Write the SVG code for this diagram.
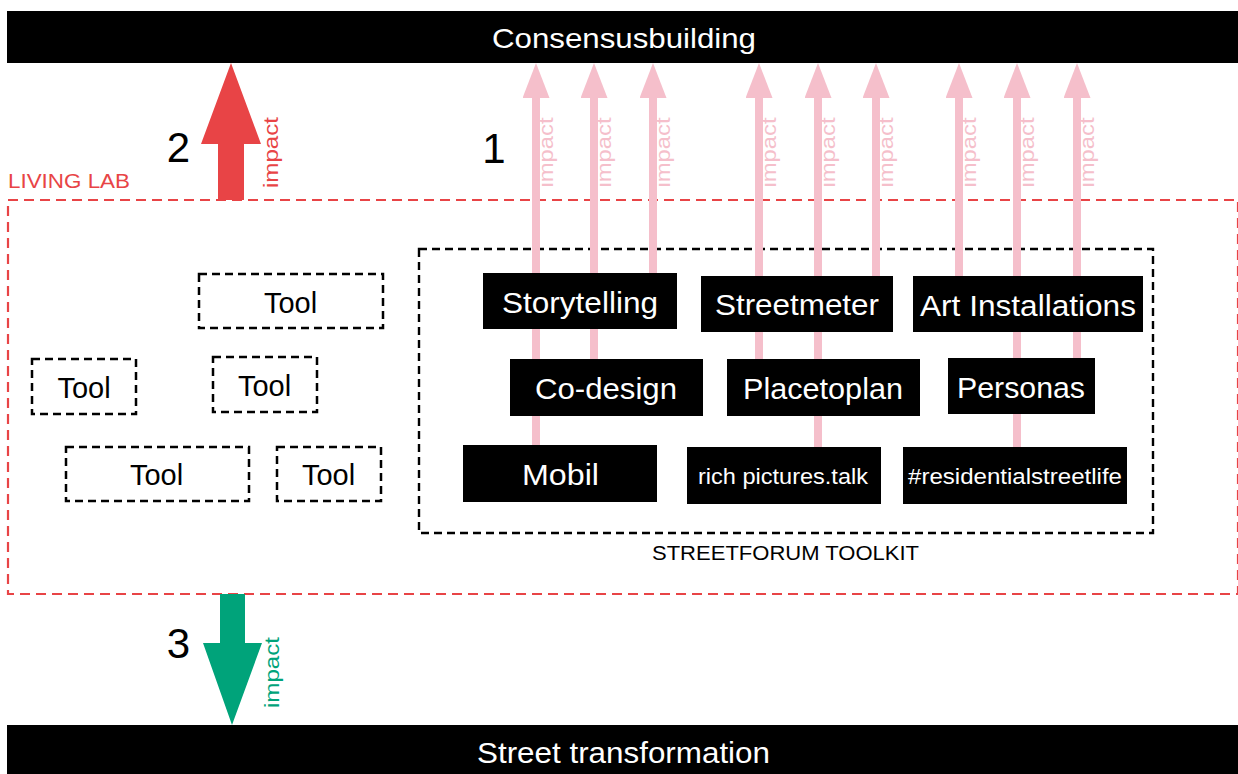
<svg xmlns="http://www.w3.org/2000/svg" width="1238" height="774" viewBox="0 0 1238 774">
<style>
  text { font-family: "Liberation Sans", Arial, sans-serif; }
  .bar { fill: #000; }
  .bartext { fill: #fff; font-size: 28px; text-anchor: middle; }
  .box { fill: #000; }
  .boxtext { fill: #fff; font-size: 29px; text-anchor: middle; }
  .smalltext { fill: #fff; font-size: 22px; text-anchor: middle; }
  .tool { fill: none; stroke: #000; stroke-width: 2.5; stroke-dasharray: 8 5; }
  .tooltext { fill: #000; font-size: 29px; text-anchor: middle; }
  .pink { stroke: #F5BFCB; stroke-width: 8; fill: none; marker-end: url(#pinkhead); }
  .pinklabel { fill: #F5BFCB; font-size: 20px; text-anchor: middle; }
  .digit { fill: #000; font-size: 42px; text-anchor: middle; }
</style>
<defs>
  <marker id="pinkhead" markerUnits="userSpaceOnUse" viewBox="0 0 35 27" refX="0" refY="13.5" markerWidth="35" markerHeight="27" orient="auto">
    <path d="M0,0 L35,13.5 L0,27 Z" fill="#F5BFCB"/>
  </marker>
</defs>

<g id="consensusbuilding">
  <rect class="bar" x="7" y="11" width="1231" height="52"/>
  <text class="bartext" x="624" y="48" textLength="264" lengthAdjust="spacingAndGlyphs">Consensusbuilding</text>
</g>
<g id="street-transformation">
  <rect class="bar" x="7" y="725" width="1231" height="49"/>
  <text class="bartext" x="623.5" y="763" style="font-size:29px" textLength="293" lengthAdjust="spacingAndGlyphs">Street transformation</text>
</g>

<g id="living-lab">
  <rect x="8" y="200" width="1230" height="394" fill="none" stroke="#E84446" stroke-width="2.2" stroke-dasharray="10 6"/>
  <text x="8" y="188" fill="#E84446" style="font-size:20px" textLength="122" lengthAdjust="spacingAndGlyphs">LIVING LAB</text>
</g>

<g id="streetforum-toolkit">
  <rect x="419" y="249" width="734" height="284" fill="none" stroke="#000" stroke-width="2.4" stroke-dasharray="8 5"/>
  <text x="785.5" y="560" fill="#000" style="font-size:20px" text-anchor="middle" textLength="267" lengthAdjust="spacingAndGlyphs">STREETFORUM TOOLKIT</text>
</g>

<g id="connectors">
  <line class="pink" x1="536" y1="445" x2="536" y2="98"/>
  <line class="pink" x1="594" y1="359" x2="594" y2="98"/>
  <line class="pink" x1="653" y1="273" x2="653" y2="98"/>
  <line class="pink" x1="759" y1="359" x2="759" y2="98"/>
  <line class="pink" x1="818" y1="447" x2="818" y2="98"/>
  <line class="pink" x1="876" y1="276" x2="876" y2="98"/>
  <line class="pink" x1="959" y1="276" x2="959" y2="98"/>
  <line class="pink" x1="1017" y1="447" x2="1017" y2="98"/>
  <line class="pink" x1="1077" y1="358" x2="1077" y2="98"/>
  <text class="pinklabel" transform="translate(553,152.5) rotate(-90)" textLength="70" lengthAdjust="spacingAndGlyphs">impact</text>
  <text class="pinklabel" transform="translate(611,152.5) rotate(-90)" textLength="70" lengthAdjust="spacingAndGlyphs">impact</text>
  <text class="pinklabel" transform="translate(670,152.5) rotate(-90)" textLength="70" lengthAdjust="spacingAndGlyphs">impact</text>
  <text class="pinklabel" transform="translate(776,152.5) rotate(-90)" textLength="70" lengthAdjust="spacingAndGlyphs">impact</text>
  <text class="pinklabel" transform="translate(835,152.5) rotate(-90)" textLength="70" lengthAdjust="spacingAndGlyphs">impact</text>
  <text class="pinklabel" transform="translate(893,152.5) rotate(-90)" textLength="70" lengthAdjust="spacingAndGlyphs">impact</text>
  <text class="pinklabel" transform="translate(976,152.5) rotate(-90)" textLength="70" lengthAdjust="spacingAndGlyphs">impact</text>
  <text class="pinklabel" transform="translate(1034,152.5) rotate(-90)" textLength="70" lengthAdjust="spacingAndGlyphs">impact</text>
  <text class="pinklabel" transform="translate(1094,152.5) rotate(-90)" textLength="70" lengthAdjust="spacingAndGlyphs">impact</text>

  <polygon points="218,200 244,200 244,144 261,144 231,63 201,144 218,144" fill="#E84446"/>
  <text transform="translate(278,152.5) rotate(-90)" fill="#E84446" style="font-size:20px" text-anchor="middle" textLength="71" lengthAdjust="spacingAndGlyphs">impact</text>
  <polygon points="220,594 245,594 245,643 262,643 232,725 203,643 220,643" fill="#00A37A"/>
  <text transform="translate(279,672.5) rotate(-90)" fill="#00A37A" style="font-size:20px" text-anchor="middle" textLength="71" lengthAdjust="spacingAndGlyphs">impact</text>
</g>

<g id="labels-numbers">
  <text class="digit" x="494" y="163">1</text>
  <text class="digit" x="178.5" y="162">2</text>
  <text class="digit" x="178.5" y="658">3</text>
</g>

<g id="storytelling">
  <rect class="box" x="483" y="273" width="194" height="56"/>
  <text class="boxtext" x="580" y="313" textLength="156" lengthAdjust="spacingAndGlyphs">Storytelling</text>
</g>
<g id="streetmeter">
  <rect class="box" x="701" y="276" width="192" height="56"/>
  <text class="boxtext" x="797" y="315" textLength="164" lengthAdjust="spacingAndGlyphs">Streetmeter</text>
</g>
<g id="art-installations">
  <rect class="box" x="913" y="276" width="230" height="56"/>
  <text class="boxtext" x="1028" y="316" textLength="216" lengthAdjust="spacingAndGlyphs">Art Installations</text>
</g>
<g id="co-design">
  <rect class="box" x="510" y="359" width="193" height="57"/>
  <text class="boxtext" x="606" y="399" textLength="142" lengthAdjust="spacingAndGlyphs">Co-design</text>
</g>
<g id="placetoplan">
  <rect class="box" x="727" y="359" width="193" height="57"/>
  <text class="boxtext" x="823" y="399" textLength="160" lengthAdjust="spacingAndGlyphs">Placetoplan</text>
</g>
<g id="personas">
  <rect class="box" x="948" y="358" width="147" height="56"/>
  <text class="boxtext" x="1021" y="398" textLength="128" lengthAdjust="spacingAndGlyphs">Personas</text>
</g>
<g id="mobil">
  <rect class="box" x="463" y="445" width="194" height="57"/>
  <text class="boxtext" x="560.5" y="485" textLength="77" lengthAdjust="spacingAndGlyphs">Mobil</text>
</g>
<g id="rich-pictures-talk">
  <rect class="box" x="687" y="447" width="194" height="57"/>
  <text class="smalltext" x="783" y="484" textLength="170" lengthAdjust="spacingAndGlyphs">rich pictures.talk</text>
</g>
<g id="residentialstreetlife">
  <rect class="box" x="903" y="447" width="224" height="57"/>
  <text class="smalltext" x="1015" y="484" textLength="214" lengthAdjust="spacingAndGlyphs">#residentialstreetlife</text>
</g>

<g id="tool-1">
  <rect class="tool" x="199" y="274" width="184" height="54"/>
  <text class="tooltext" x="290.5" y="313">Tool</text>
</g>
<g id="tool-2">
  <rect class="tool" x="32" y="359" width="104" height="55"/>
  <text class="tooltext" x="84" y="398">Tool</text>
</g>
<g id="tool-3">
  <rect class="tool" x="213" y="357" width="104" height="55"/>
  <text class="tooltext" x="264.5" y="396">Tool</text>
</g>
<g id="tool-4">
  <rect class="tool" x="66" y="447" width="183" height="54"/>
  <text class="tooltext" x="156.5" y="485">Tool</text>
</g>
<g id="tool-5">
  <rect class="tool" x="277" y="447" width="104" height="54"/>
  <text class="tooltext" x="328.5" y="485">Tool</text>
</g>
</svg>
